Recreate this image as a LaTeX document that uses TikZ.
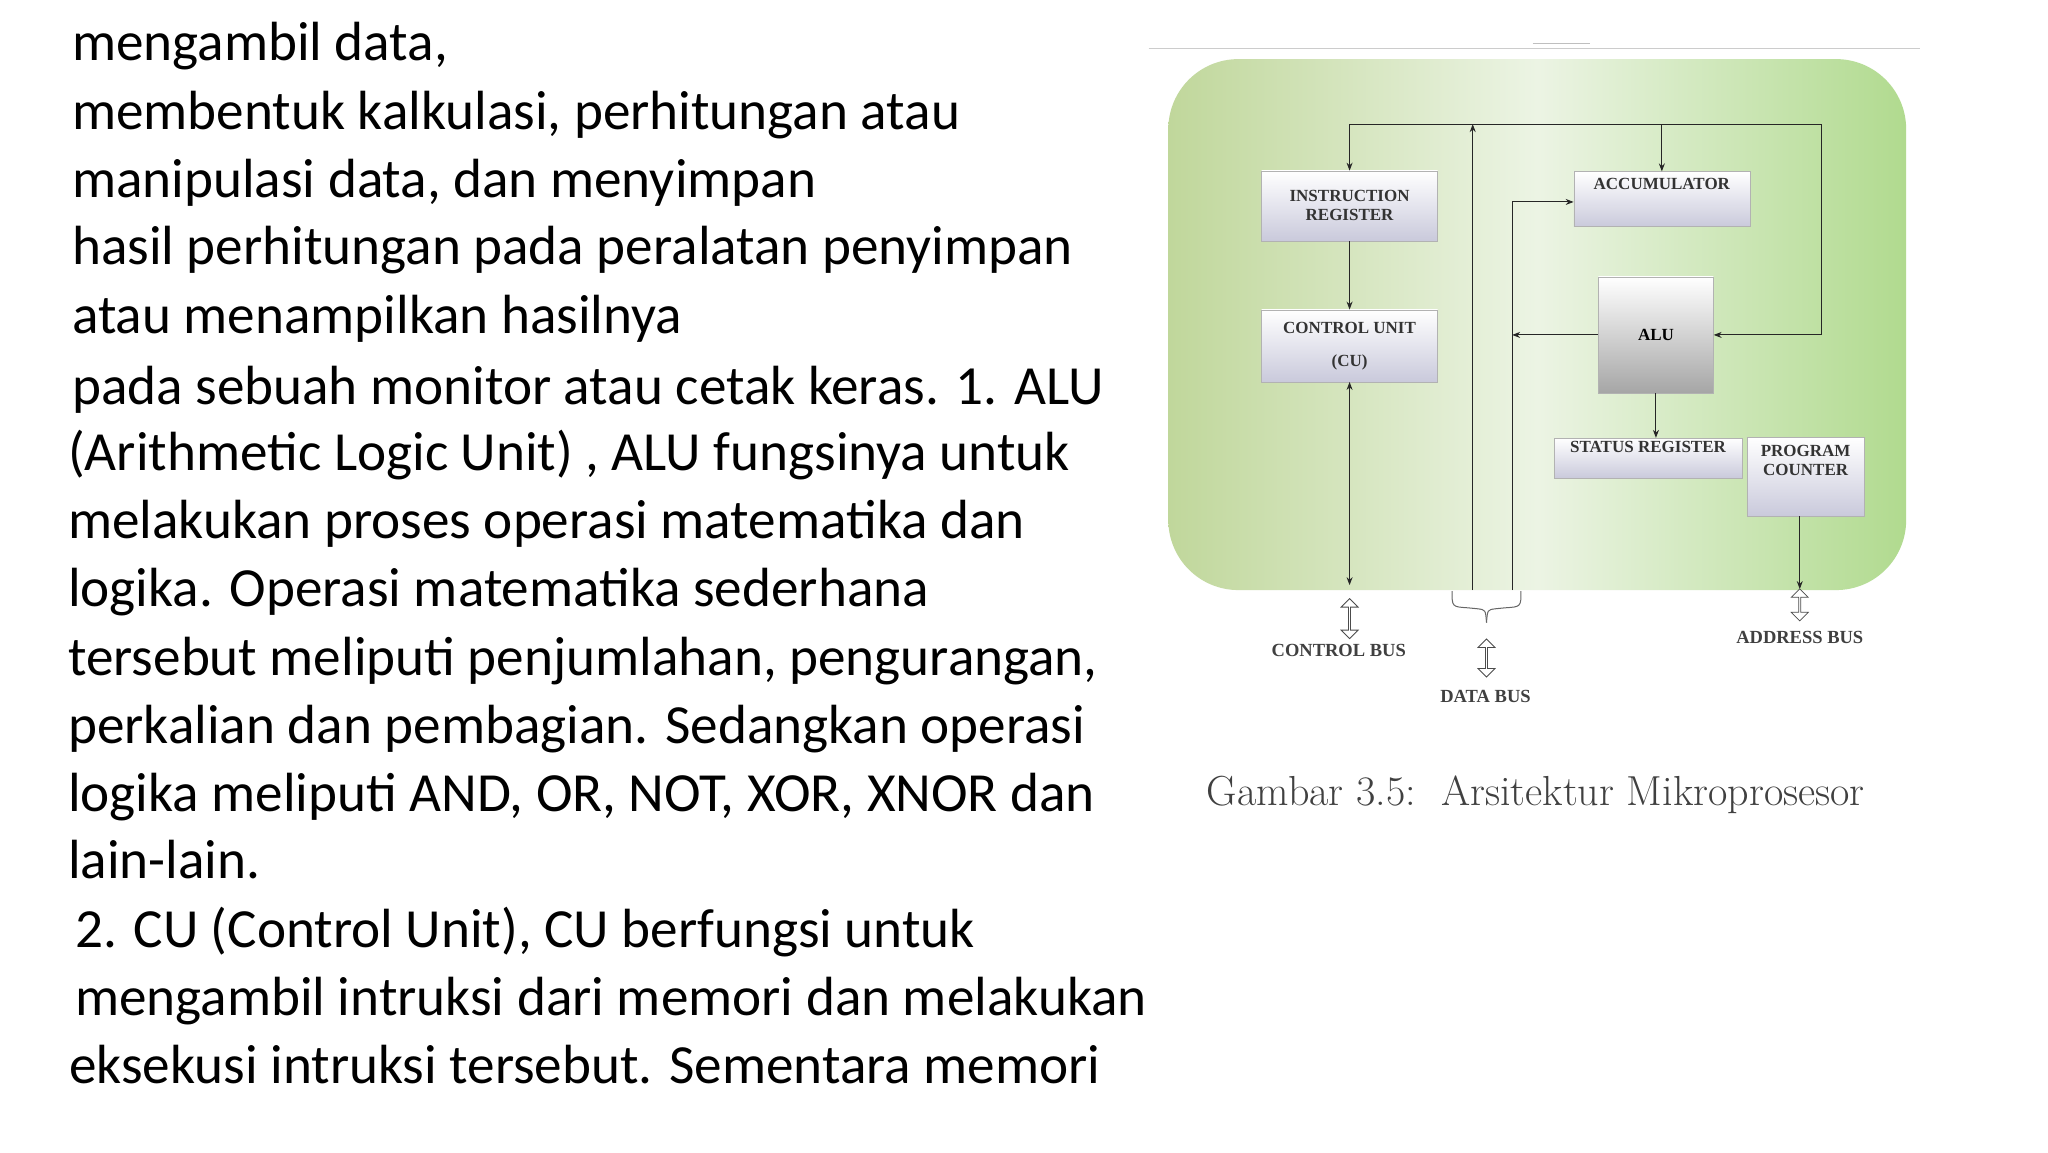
\documentclass[tikz,border=0pt]{standalone}
\usepackage{fontspec}
\setmainfont{Carlito}
\newfontfamily\boxfont{Liberation Serif}
\usetikzlibrary{shapes.arrows,arrows.meta}
\definecolor{gedge}{RGB}{192,215,155}
\definecolor{gmid}{RGB}{236,244,228}
\begin{document}
\begin{tikzpicture}[x=0.985pt,y=-0.985pt,
  txt/.style={anchor=base west,inner sep=0pt,font=\fontsize{55.2}{60}\selectfont},
  reg/.style={draw=gray!60,top color=white,bottom color=blue!20!gray!35,font=\boxfont\bfseries\fontsize{17}{19}\selectfont,align=center,inner sep=0pt,text=black!80},
  lbl/.style={font=\boxfont\bfseries\fontsize{18.5}{20}\selectfont,text=black!75},
  hollow/.style={double arrow,draw=black!70,fill=white,line width=0.8pt,double arrow head extend=3pt,minimum width=17pt,inner sep=0pt,rotate=90},
  ln/.style={line width=1pt,black!85},
  tip/.style={-{Stealth[length=8pt,width=6pt]}}]
\useasboundingbox (0,0) rectangle (2079,1169.5);
\fill[white] (0,0) rectangle (2079,1169.5);
% left text
\foreach \y/\x/\t in {61/73/{mengambil data,},
 131/73/{membentuk kalkulasi, perhitungan atau},
 200/73/{manipulasi data, dan menyimpan},
 269/73/{hasil perhitungan pada peralatan penyimpan},
 339/73/{atau menampilkan hasilnya},
 411/73/{pada sebuah monitor atau cetak keras. 1. ALU},
 478/69/{(Arithmetic Logic Unit) , ALU fungsinya untuk},
 547/69/{melakukan proses operasi matematika dan},
 616/69/{logika. Operasi matematika sederhana},
 686/69/{tersebut meliputi penjumlahan, pengurangan,},
 755/69/{perkalian dan pembagian. Sedangkan operasi},
 824/69/{logika meliputi AND, OR, NOT, XOR, XNOR dan},
 892/69/{lain-lain.},
 962/76/{2. CU (Control Unit), CU berfungsi untuk},
 1031/76/{mengambil intruksi dari memori dan melakukan},
 1100/70/{eksekusi intruksi tersebut. Sementara memori}}
 \node[txt] at (\x,\y) {\t};
% top rule
\draw[gray!40,line width=1pt] (1166,49) -- (1949,49);
\draw[gray!50,line width=1pt] (1556,44) -- (1614,44);
% green panel
\path[left color=gedge,right color=gedge!92!green,middle color=gmid,rounded corners=70pt] (1186,60) rectangle (1935,599);
% boxes
\node[reg,minimum width=176pt,minimum height=70pt] (ir) at (1370,209) {INSTRUCTION\\REGISTER};
\node[reg,minimum width=176pt,minimum height=72pt] (cu) at (1370,351) {CONTROL UNIT\\[14pt](CU)};
\node[reg,minimum width=176pt,minimum height=55pt,anchor=north] (acc) at (1687,174) {ACCUMULATOR\\[12pt]};
\node[draw=gray!60,top color=white,bottom color=gray!70,font=\boxfont\bfseries\fontsize{17}{19}\selectfont,minimum width=115pt,minimum height=116pt,inner sep=0pt] (alu) at (1681,340) {ALU};
\node[reg,minimum width=188pt,minimum height=40pt] (sr) at (1673,465) {STATUS REGISTER\\[4pt]};
\node[reg,minimum width=117pt,minimum height=79pt] (pc) at (1833,484) {PROGRAM\\COUNTER\\[14pt]};
% coordinates
\coordinate (tl) at (1370,126);
\coordinate (tr) at (1849,126);
\coordinate (d1b) at (1495,599);
\coordinate (d1t) at (1495,126);
\coordinate (d2b) at (1535,599);
\coordinate (d2t) at (1535,205);
\coordinate (cub) at (1370,594);
\coordinate (pcb) at (1827,598);
% connectors
\draw[ln] (tl) -- (tr);
\draw[ln,tip] (tl) -- (ir.north);
\draw[ln,tip] (acc.north |- tl) -- (acc.north);
\draw[ln,tip] (d1b) -- (d1t);
\draw[ln,tip] (d2b) -- (d2t) -- (acc.west |- d2t);
\draw[ln,tip] (alu.west) -- (d2t |- alu.west);
\draw[ln,tip] (tr) -- (tr |- alu.east) -- (alu.east);
\draw[ln,tip] (ir.south) -- (cu.north);
\draw[ln,{Stealth[length=8pt,width=6pt]}-{Stealth[length=8pt,width=6pt]}] (cu.south) -- (cub);
\draw[ln,tip] (alu.south) -- (sr.north -| alu.south);
\draw[ln,tip] (pc.south -| pcb) -- (pcb);
% bus arrows
\node[hollow,minimum height=40pt] (cbus) at (1370,628) {};
\node[lbl] (cbl) at (1359,660) {CONTROL BUS};
\draw[black!60,line width=1pt] (1474,600) .. controls (1474,616) .. (1490,617) -- (1500,618) .. controls (1508,619) .. (1509,632);
\draw[black!60,line width=1pt] (1544,600) .. controls (1544,616) .. (1528,617) -- (1518,618) .. controls (1510,619) .. (1509,632);
\node[hollow,minimum height=38pt] (dbus) at (1509,668) {};
\node[lbl] (dbl) at (1508,707) {DATA BUS};
\node[hollow,minimum height=32pt] (abus) at (1827,614) {};
\node[lbl] (abl) at (1827,647) {ADDRESS BUS};
% caption
\node[font=\fontspec{Latin Modern Roman}\fontsize{42}{46}\selectfont,text=black!75] (cap) at (1559,807) {Gambar 3.5:\ \ Arsitektur Mikroprosesor};
\end{tikzpicture}
\end{document}
